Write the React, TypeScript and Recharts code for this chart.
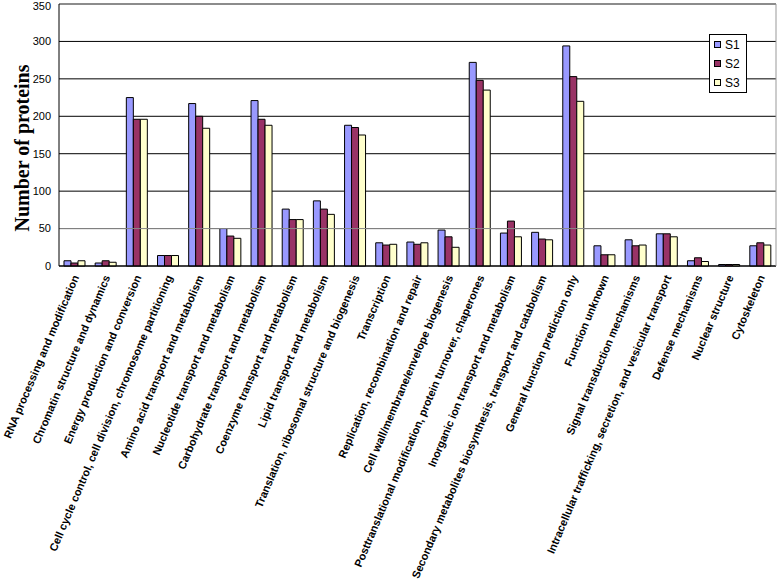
import React from 'react';
import { BarChart, Bar, XAxis, YAxis, CartesianGrid, ReferenceLine } from 'recharts';

const categories = [
  'RNA processing and modification',
  'Chromatin structure and dynamics',
  'Energy production and conversion',
  'Cell cycle control, cell division, chromosome partitioning',
  'Amino acid transport and metabolism',
  'Nucleotide transport and metabolism',
  'Carbohydrate transport and metabolism',
  'Coenzyme transport and metabolism',
  'Lipid transport and metabolism',
  'Translation, ribosomal structure and biogenesis',
  'Transcription',
  'Replication, recombination and repair',
  'Cell wall/membrane/envelope biogenesis',
  'Posttranslational modification, protein turnover, chaperones',
  'Inorganic ion transport and metabolism',
  'Secondary metabolites biosynthesis, transport and catabolism',
  'General function prediction only',
  'Function unknown',
  'Signal transduction mechanisms',
  'Intracellular trafficking, secretion, and vesicular transport',
  'Defense mechanisms',
  'Nuclear structure',
  'Cytoskeleton',
];

const s1 = [7, 4, 225, 14, 217, 50, 221, 76, 87, 188, 31, 32, 48, 272, 44, 45, 294, 27, 35, 43, 7, 2, 27];
const s2 = [4, 7, 196, 14, 200, 40, 196, 62, 76, 185, 28, 29, 39, 248, 60, 36, 253, 15, 27, 43, 11, 2, 31];
const s3 = [7, 5, 196, 14, 184, 37, 188, 62, 69, 175, 29, 31, 25, 235, 39, 35, 220, 15, 28, 39, 6, 2, 28];

const yTicks = [0, 50, 100, 150, 200, 250, 300, 350];

const series = [
  { key: 'S1', color: '#9999ff' },
  { key: 'S2', color: '#993366' },
  { key: 'S3', color: '#ffffcc' },
];

const data = categories.map((name, i) => ({ name, S1: s1[i], S2: s2[i], S3: s3[i] }));

const CategoryTick = (props: any) => {
  const { x, y, payload } = props;
  return (
    <g transform={`translate(${x + 2},${y + 2})`}>
      <text
        transform="rotate(-67)"
        textAnchor="end"
        dominantBaseline="middle"
        fontFamily="Liberation Sans, Arial, sans-serif"
        fontWeight="bold"
        fontSize={11}
        fill="#000"
      >
        {payload.value}
      </text>
    </g>
  );
};

const LegendBox = () => (
  <div
    style={{
      position: 'absolute',
      left: 709,
      top: 34,
      border: '1px solid #000',
      background: '#fff',
      width: 32,
      padding: '0 0 0 4px',
      fontFamily: 'Liberation Sans, Arial, sans-serif',
      fontSize: 12,
    }}
  >
    {series.map((s) => (
      <div key={s.key} style={{ display: 'flex', alignItems: 'center', height: 19 }}>
        <span
          style={{
            display: 'inline-block',
            width: 5,
            height: 5,
            background: s.color,
            border: '1px solid #000',
            marginRight: 4,
          }}
        />
        {s.key}
      </div>
    ))}
  </div>
);

export default function App() {
  return (
    <div style={{ position: 'absolute', left: 0, top: 0, width: 779, height: 586, background: '#fff' }}>
      <BarChart
        width={779}
        height={586}
        data={data}
        margin={{ top: 4, right: 0, left: 0, bottom: 0 }}
        barCategoryGap="16%"
        barGap={0}
      >
        <CartesianGrid horizontal vertical={false} stroke="#000" strokeWidth={1} />
        <XAxis
          dataKey="name"
          interval={0}
          height={320}
          tick={<CategoryTick />}
          tickLine={false}
          axisLine={{ stroke: '#000' }}
        />
        <YAxis
          domain={[0, 350]}
          ticks={yTicks}
          width={59}
          tickLine={false}
          tickMargin={2}
          axisLine={{ stroke: '#000' }}
          tick={{ fill: '#000', fontSize: 11, fontFamily: 'Liberation Sans, Arial, sans-serif' }}
          label={{
            value: 'Number of proteins',
            angle: -90,
            position: 'insideLeft',
            offset: 0,
            dx: 22,
            dy: 13,
            style: {
              textAnchor: 'middle',
              fontFamily: 'Liberation Serif, Times New Roman, serif',
              fontWeight: 'bold',
              fontSize: 20,
              fill: '#000',
            },
          }}
        />
        <YAxis yAxisId="frame" orientation="right" width={3} tick={false} tickLine={false} axisLine={{ stroke: '#999' }} />
        <ReferenceLine y={350} stroke="#999" />
        <ReferenceLine y={50} stroke="#888" />
        {series.map((s) => (
          <Bar key={s.key} dataKey={s.key} fill={s.color} stroke="#000" strokeWidth={1} isAnimationActive={false} />
        ))}
      </BarChart>
      <LegendBox />
    </div>
  );
}
